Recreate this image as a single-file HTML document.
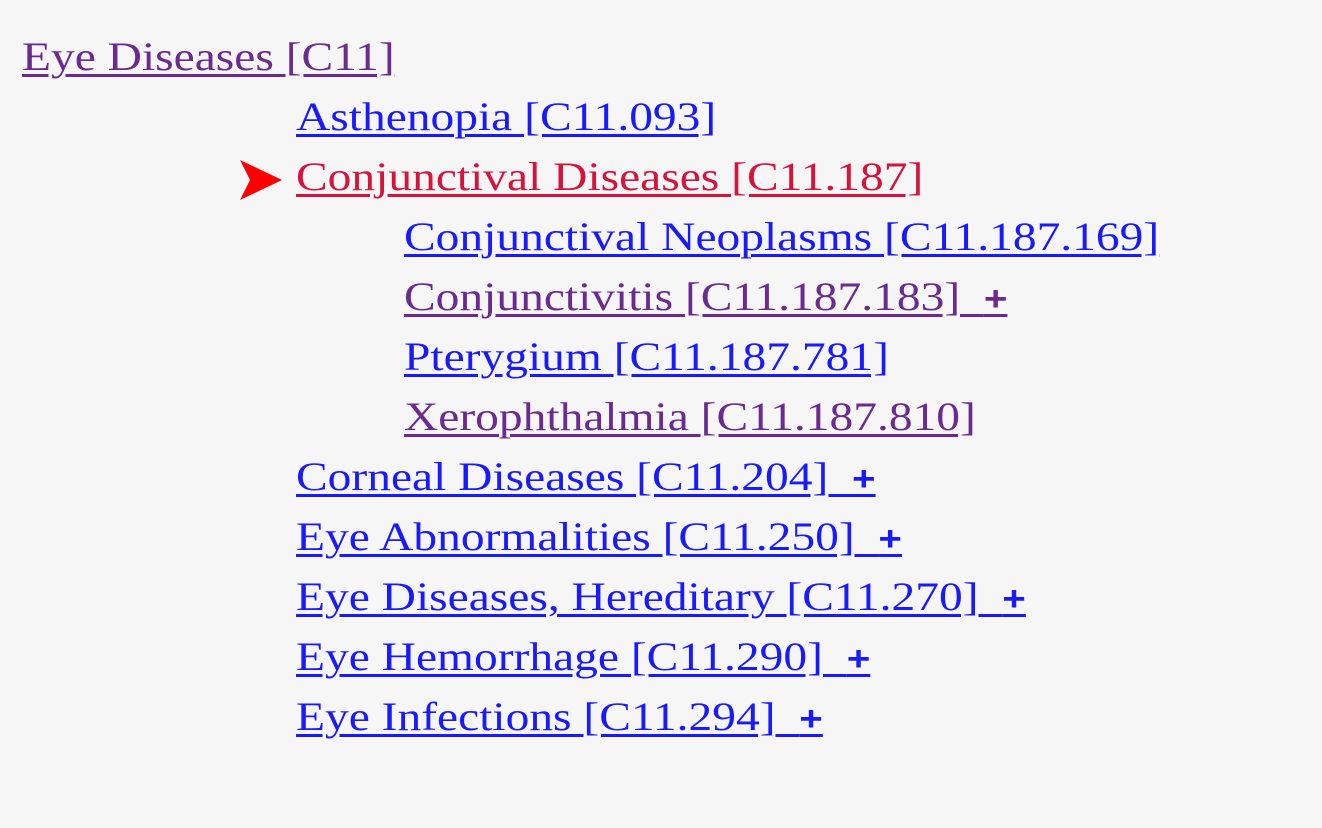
<!DOCTYPE html>
<html><head><meta charset="utf-8">
<style>
html,body{margin:0;padding:0;background:#f6f6f6;}
#wrap{position:relative;width:1322px;height:759px;overflow:hidden;}
.row{position:absolute;height:60px;line-height:60px;font-family:"Liberation Serif",serif;font-size:40px;white-space:nowrap;transform:scaleX(1.187);transform-origin:0 0;}
.row a{text-decoration:underline;text-decoration-thickness:2.5px;text-underline-offset:4px;}
.v{color:#6b2a8f;}
.b{color:#1a1aff;}
.r{color:#d4143c;}
.plus{font-family:"Liberation Sans",sans-serif;font-weight:bold;font-size:34px;}
#arrow{position:absolute;left:240px;top:160px;}
</style></head><body>
<div id="wrap">
<div class="row" style="left:22px;top:27px"><a class="v">Eye Diseases [C11]</a></div>
<div class="row" style="left:296px;top:87px"><a class="b">Asthenopia [C11.093]</a></div>
<svg id="arrow" width="44" height="40" viewBox="0 0 44 40"><polygon points="0,0 42,20 0,40 10,20" fill="#ff0000"/></svg>
<div class="row" style="left:296px;top:147px"><a class="r">Conjunctival Diseases [C11.187]</a></div>
<div class="row" style="left:404px;top:207px"><a class="b">Conjunctival Neoplasms [C11.187.169]</a></div>
<div class="row" style="left:404px;top:267px"><a class="v">Conjunctivitis [C11.187.183] &nbsp;<span class="plus">+</span></a></div>
<div class="row" style="left:404px;top:327px"><a class="b">Pterygium [C11.187.781]</a></div>
<div class="row" style="left:404px;top:387px"><a class="v">Xerophthalmia [C11.187.810]</a></div>
<div class="row" style="left:296px;top:447px"><a class="b">Corneal Diseases [C11.204] &nbsp;<span class="plus">+</span></a></div>
<div class="row" style="left:296px;top:507px"><a class="b">Eye Abnormalities [C11.250] &nbsp;<span class="plus">+</span></a></div>
<div class="row" style="left:296px;top:567px"><a class="b">Eye Diseases, Hereditary [C11.270] &nbsp;<span class="plus">+</span></a></div>
<div class="row" style="left:296px;top:627px"><a class="b">Eye Hemorrhage [C11.290] &nbsp;<span class="plus">+</span></a></div>
<div class="row" style="left:296px;top:687px"><a class="b">Eye Infections [C11.294] &nbsp;<span class="plus">+</span></a></div>
<div class="row" style="left:296px;top:747px"><a class="b">Eye Neoplasms [C11.319] &nbsp;<span class="plus">+</span></a></div>
</div>
</body></html>
